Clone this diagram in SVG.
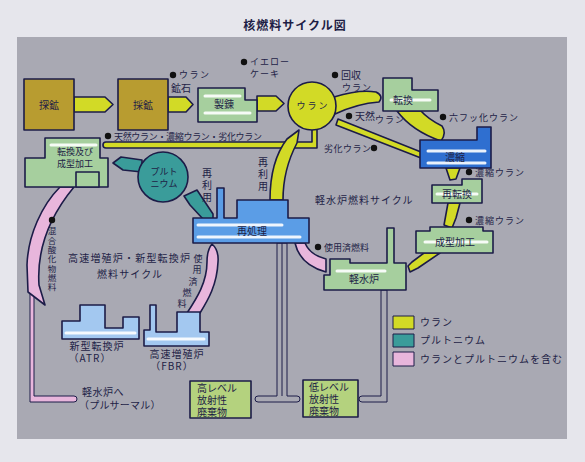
<svg xmlns="http://www.w3.org/2000/svg" width="585" height="462" viewBox="0 0 585 462">
<style>
text{font-family:"Noto Sans CJK JP","Noto Sans",sans-serif;fill:#1e1e46}
.s{stroke:#1c1c48;stroke-width:1.6;stroke-linejoin:round}
.t{stroke:#1c1c48;stroke-width:1;stroke-linejoin:round}
.y{fill:#d2da26}.o{fill:#b89c30}.g{fill:#a6cf9e}.bd{fill:#2f6fd0}.bm{fill:#5b9de6}.bl{fill:#a3c8f0}.tl{fill:#3a9c9a}.p{fill:#e8b6dc}.w{fill:#b4d27e}.gr{fill:#a9a9b3}
.bar{stroke:#fff;stroke-width:3;stroke-linecap:round;opacity:.9;fill:none}
.f10{font-size:10px}.f9{font-size:9px}.m{text-anchor:middle}
.v{writing-mode:vertical-rl}
</style>
<rect width="585" height="462" fill="#e6e6ec"/>
<rect x="17" y="37" width="550" height="402" fill="#a9a9b3"/>
<text x="295" y="30" class="m" font-size="12" font-weight="bold" letter-spacing="1">核燃料サイクル図</text>

<g id="connectors">
<polygon class="s y" points="74,97 105,97 113,104.5 105,112 74,112"/>
<polygon class="s y" points="168,97 186,97 193,104.5 186,112 168,112"/>
<polygon class="s y" points="257,96 276,96 284,103.5 276,111 257,111"/>
<path class="s y" d="M106,142 L312,142 L312,126 L317,126 L317,148 L106,148 A3,3 0 0 1 106,142 Z"/>
<path class="s y" d="M270,200 C270,172 277,152 287,139 L299,130 L297,143 C288,160 283,180 283,200 Z"/>
<path class="s y" d="M334,97 C350,92 365,90 376,92 Q384,96 379,102 C365,103 350,107 335,114 Z"/>
<polygon class="s y" points="338,119 421,152 421,158 336,125"/>
<path class="s y" d="M397,111 Q412,131 441,141 Q447,133 442,126 Q428,119 421,111 Z"/>
<polygon class="s y" points="446,168 460,168 456,179 450,180"/>
<polygon class="s y" points="448,203 460,203 456,218 452,228 444,225 446,214"/>
<polygon class="s y" points="424,253 440,253 418,268 410,272 408,266 412,262"/>
<path class="s p" d="M295,243 L305,243 Q310,255 326,259 L326,272 Q300,265 295,243 Z"/>
<path class="s p" d="M212,244 Q219,250 218,262 C217,285 208,300 200,313 L187,313 C197,298 207,282 207,262 Q207,250 212,244 Z"/>
<path class="t p" d="M30,292 L30,402 L74,402 A3,3 0 0 0 74,396 L34,396 L34,292 Z"/>
<path class="s p" d="M60,187 C42,205 28,235 27,265 L28,292 L45,305 L39,285 C37,255 45,222 74,187 Z"/>
<polygon class="s tl" points="113,163 121,157 142,160 142,172 123,170"/>
<polygon class="s tl" points="184,196 197,190 213,214 213,219 203,219 190,205"/>
<path class="t gr" d="M277,243 V396 H258 A3,3 0 0 0 258,402 H297 A3,3 0 0 0 297,396 H287 V243 Z"/>
<line class="t" x1="282" y1="243" x2="282" y2="396"/>
<path class="t gr" d="M381,290 V396 H362 A3,3 0 0 0 362,402 H387 V290 Z"/>
</g>

<g id="n-tankou"><rect class="s o" x="24" y="79" width="50" height="51"/><text class="f10 m" x="49" y="109">探鉱</text></g>
<g id="n-saikou"><rect class="s o" x="118" y="79" width="50" height="51"/><text class="f10 m" x="143" y="109">採鉱</text></g>
<g id="n-seiren"><path class="s g" d="M198,88 H245 V100 H257 V122 H198 Z"/><line class="bar" x1="205" y1="96" x2="240" y2="96"/><line class="bar" x1="205" y1="113" x2="250" y2="113"/><text class="f10 m" x="224" y="108">製錬</text></g>
<g id="n-uran"><circle class="s y" cx="312" cy="106" r="24"/><text class="f9 m" x="313" y="109" letter-spacing="2">ウラン</text></g>
<g id="n-tenkan"><path class="s g" d="M383,78 H412 V90 H438 V111 H383 Z"/><line class="bar" x1="391" y1="100" x2="430" y2="100"/><text class="f10 m" x="403" y="104">転換</text></g>
<g id="n-noushuku"><path class="s bd" d="M420,140 H477 V127 H491 V168 H420 Z"/><line class="bar" x1="428" y1="151" x2="485" y2="151"/><line class="bar" x1="428" y1="163" x2="485" y2="163"/><text class="f10 m" x="455" y="161">濃縮</text></g>
<g id="n-saitenkan"><path class="s g" d="M432,185 H462 V179 H482 V203 H432 Z"/><line class="bar" x1="437" y1="194" x2="477" y2="194"/><text class="f10 m" x="457" y="198">再転換</text></g>
<g id="n-seikei"><path class="s g" d="M416,231 H430 V227 H483 V231 H493 V253 H416 Z"/><line class="bar" x1="425" y1="242" x2="487" y2="242"/><text class="f10 m" x="455" y="246">成型加工</text></g>
<g id="n-keisuiro"><path class="s g" d="M324,275 H330 V259 H350 V263 H387 V228 H394 V263 H406 V290 H324 Z"/><line class="bar" x1="337" y1="271" x2="385" y2="271"/><text class="f10 m" x="364" y="283">軽水炉</text></g>
<g id="n-saishori"><path class="s bm" d="M193,218 H217 V188 H224 V218 H237 V200 H288 V218 H309 V243 H193 Z"/><line class="bar" x1="198" y1="225" x2="282" y2="225"/><line class="bar" x1="198" y1="237" x2="300" y2="237"/><text class="f10 m" x="252" y="235">再処理</text></g>
<g id="n-tenkanseikei"><path class="s g" d="M45,138 H100 V158 H108 V187 H25 V158 H45 Z"/><rect class="s g" x="76" y="172" width="23" height="15"/><line class="bar" x1="51" y1="145" x2="96" y2="145"/><text class="f9 m" x="75" y="155">転換及び<tspan x="75" y="167">成型加工</tspan></text></g>
<g id="n-pluto"><circle class="s tl" cx="163" cy="177" r="25"/><text class="f9 m" x="164" y="175">プルト<tspan x="164" y="187">ニウム</tspan></text></g>
<g id="n-atr"><path class="s bl" d="M62,321 H80 V305 H105 V328 H123 V317 H139 V339 H62 Z"/><line class="bar" x1="66" y1="333" x2="135" y2="333"/><text class="f10 m" x="97" y="350" letter-spacing="1">新型転換炉<tspan x="90" y="362">（ATR）</tspan></text></g>
<g id="n-fbr"><path class="s bl" d="M144,330 H150 V305 H156 V332 H177 V312 H200 V332 H209 V346 H144 Z"/><line class="bar" x1="148" y1="339" x2="204" y2="339"/><text class="f10 m" x="177" y="358" letter-spacing="1">高速増殖炉<tspan x="172" y="370">（FBR）</tspan></text></g>
<g id="n-high"><rect class="s w" x="190" y="381" width="61" height="37"/><text class="f10" x="197" y="392">高レベル<tspan x="197" y="404">放射性</tspan><tspan x="197" y="416">廃棄物</tspan></text></g>
<g id="n-low"><rect class="s w" x="303" y="380" width="55" height="37"/><text class="f10" x="309" y="391">低レベル<tspan x="309" y="403">放射性</tspan><tspan x="309" y="415">廃棄物</tspan></text></g>

<g id="labels">
<circle cx="173" cy="75" r="3.2" fill="#111"/><text class="f9" x="179" y="78" letter-spacing="1.5">ウラン<tspan x="171" y="92" font-size="10" letter-spacing="0">鉱石</tspan></text>
<circle cx="244" cy="62" r="3.2" fill="#111"/><text class="f9" x="250" y="65" letter-spacing="1">イエロー<tspan x="250" y="77">ケーキ</tspan></text>
<circle cx="335" cy="75" r="3.2" fill="#111"/><text class="f10" x="341" y="79">回収<tspan x="342" y="91" font-size="9" letter-spacing="1">ウラン</tspan></text>
<circle cx="349" cy="116" r="3.2" fill="#111"/><text class="f10" x="355" y="120">天然<tspan y="123" font-size="9" letter-spacing="1">ウラン</tspan></text>
<text class="f9" x="324" y="152" letter-spacing="0.5">劣化ウラン</text><circle cx="374" cy="148" r="3.2" fill="#111"/>
<circle cx="443" cy="117" r="3.2" fill="#111"/><text class="f9" x="449" y="121" letter-spacing="1">六フッ化ウラン</text>
<circle cx="469" cy="172" r="3.2" fill="#111"/><text class="f9" x="475" y="176" letter-spacing="1">濃縮ウラン</text>
<circle cx="469" cy="220" r="3.2" fill="#111"/><text class="f9" x="475" y="224" letter-spacing="1">濃縮ウラン</text>
<text class="f10" x="315" y="204" letter-spacing="1">軽水炉燃料サイクル</text>
<circle cx="318" cy="247" r="3.2" fill="#111"/><text class="f9" x="324" y="251">使用済燃料</text>
<circle cx="108" cy="136" r="3.2" fill="#111"/><text class="f9" x="114" y="140" textLength="148" lengthAdjust="spacing">天然ウラン・濃縮ウラン・劣化ウラン</text>
<text class="f10 v" x="263" y="157" letter-spacing="2">再利用</text>
<text class="f10 v" x="207" y="168" letter-spacing="2">再利用</text>
<circle cx="52" cy="220" r="3.2" fill="#111"/>
<text class="v" font-size="8.5" x="52" y="227" letter-spacing="0.8">混合酸化物燃料</text>
<text class="f10" x="68" y="262" textLength="122" lengthAdjust="spacing">高速増殖炉・新型転換炉</text>
<text class="f10" x="97" y="278" textLength="65" lengthAdjust="spacing">燃料サイクル</text>
<text class="f9 m"><tspan x="198" y="262">使</tspan><tspan x="197" y="273">用</tspan><tspan x="193" y="285">済</tspan><tspan x="187" y="296">燃</tspan><tspan x="182" y="307">料</tspan></text>
<text class="f10" x="82" y="396" letter-spacing="0.5">軽水炉へ<tspan x="79" y="409" letter-spacing="0.2">（プルサーマル）</tspan></text>
</g>

<g id="legend">
<rect class="t y" x="393" y="316" width="21" height="13"/><text class="f10" x="420" y="326" letter-spacing="1">ウラン</text>
<rect class="t tl" x="393" y="334" width="21" height="13"/><text class="f10" x="420" y="344" letter-spacing="1">プルトニウム</text>
<rect class="t p" x="393" y="352" width="21" height="14"/><text class="f10" x="420" y="363" letter-spacing="1">ウランとプルトニウムを含む</text>
</g>
</svg>
